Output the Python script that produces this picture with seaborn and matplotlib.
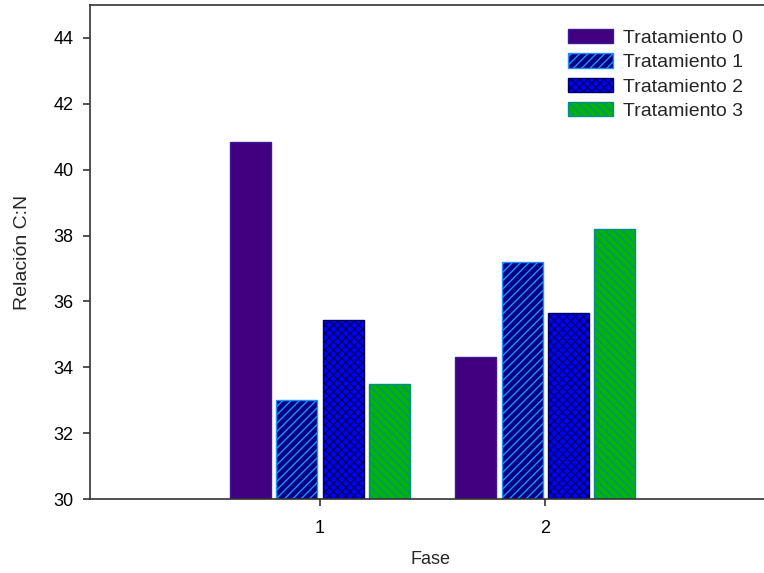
import matplotlib
matplotlib.use('Agg')
import matplotlib.pyplot as plt
import pandas as pd
import seaborn as sns

fases = ['1', '2']
tratamientos = ['Tratamiento 0', 'Tratamiento 1', 'Tratamiento 2', 'Tratamiento 3']
# relacion C:N per tratamiento, fase 1 and fase 2
t0 = [40.85, 34.3]
t1 = [33.0, 37.2]
t2 = [35.45, 35.65]
t3 = [33.5, 38.2]

fills = ['#400080', '#000080', '#0000ff', '#00b400']
edges = ['#3a1a9a', '#1e90ff', '#000060', '#008c8c']
hatches = ['', '////', 'xxxx', '\\\\\\\\']

rows = []
for trat, vals in zip(tratamientos, [t0, t1, t2, t3]):
    for f, v in zip(fases, vals):
        rows.append({'Fase': f, 'Tratamiento': trat, 'CN': v})
df = pd.DataFrame(rows)

sns.set_style('ticks')
plt.rcParams['font.family'] = ['Liberation Sans', 'DejaVu Sans']
plt.rcParams['hatch.linewidth'] = 1.0

fig = plt.figure(figsize=(7.64, 5.73), dpi=100)
ax = fig.add_axes([90/764, 74/573, 680/764, 494/573])

sns.barplot(data=df, x='Fase', y='CN', hue='Tratamiento', order=fases,
            hue_order=tratamientos, palette=fills, width=0.82, gap=0.11,
            saturation=1, errorbar=None, legend=False, ax=ax)

for cont, ec, h in zip(ax.containers, edges, hatches):
    for p in cont.patches:
        p.set_edgecolor(ec)
        p.set_hatch(h)
        p.set_linewidth(1.0)

ax.set_ylim(30, 45)
ax.set_yticks([30, 32, 34, 36, 38, 40, 42, 44])
ax.set_xlim(-1.021, 1.998)

for s in ax.spines.values():
    s.set_color('#333333')
    s.set_linewidth(1.2)

ax.tick_params(axis='both', labelsize=13, colors='#333333', labelcolor='black',
               length=5, width=1.2)
ax.tick_params(axis='y', pad=7)
ax.tick_params(axis='x', pad=10)
ax.set_xlabel('Fase', fontsize=13, labelpad=10)
ax.set_ylabel('Relación C:N', fontsize=14, labelpad=16)

handles = [c.patches[0] for c in ax.containers]
ax.legend(handles, tratamientos, loc='upper left', bbox_to_anchor=(568/764, 1 - 29/573),
          bbox_transform=fig.transFigure, frameon=False, fontsize=14,
          handlelength=2.3, handleheight=0.75, labelspacing=0.33, handletextpad=0.55,
          borderpad=0, borderaxespad=0)

fig.savefig('out.png', dpi=100)
